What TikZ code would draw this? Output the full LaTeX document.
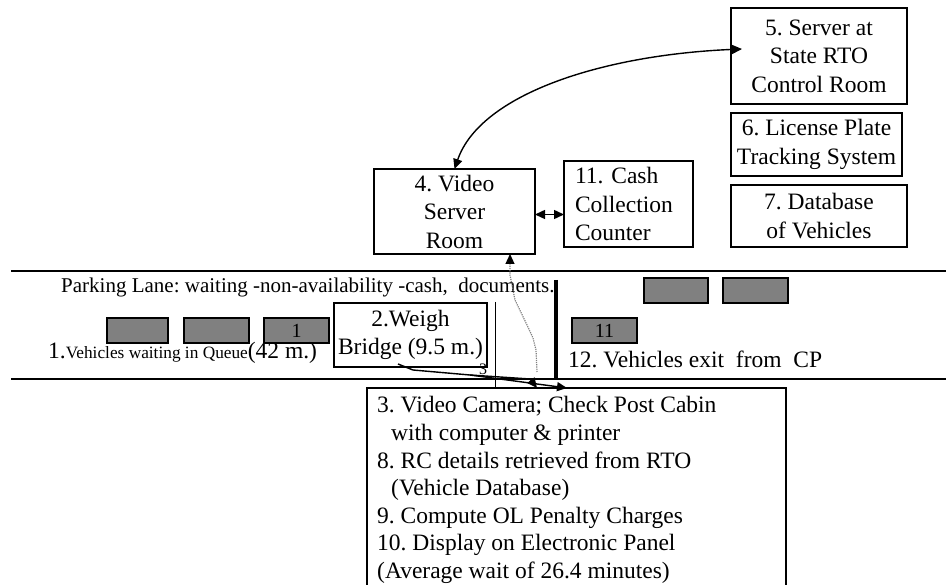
\documentclass[tikz,border=0pt]{standalone}
\usepackage{fontspec}
\setmainfont{Liberation Serif}
\usetikzlibrary{arrows.meta,calc}
\definecolor{cargray}{RGB}{128,128,128}
\newcommand\bigf{\fontsize{23.5}{28.5}\selectfont}
\newcommand\midf{\fontsize{17.3}{20}\selectfont}
\newcommand\parkf{\fontsize{21}{24}\selectfont}
\newcommand\smallf{\fontsize{20}{22}\selectfont}
\begin{document}
\frenchspacing
\begin{tikzpicture}[x=1pt,y=-1pt,
  box/.style={draw, line width=1.7pt, inner sep=0pt, outer sep=0pt, align=center, font=\bigf, anchor=north west},
  car/.style={draw, fill=cargray, line width=1.7pt, inner sep=0pt, outer sep=0pt, anchor=north west, minimum height=25pt, font=\smallf},
  road/.style={line width=2.4pt},
  tip/.style={-{Triangle[length=10pt,width=9pt]}},
  tips/.style={{Triangle[length=10pt,width=9pt]}-{Triangle[length=10pt,width=9pt]}},
  lbl/.style={anchor=base west, inner sep=0pt, font=\bigf},
  conn/.style={line width=1.4pt}
]
\clip (0,0) rectangle (946,585);
% boxes
\node[box, minimum width=176pt, minimum height=96pt] (b5) at (731,8) {5. Server at\\State RTO\\Control Room};
\node[box, minimum width=171pt, minimum height=63pt] (b6) at (731,113) {6. License Plate\\Tracking System};
\node[box, minimum width=176pt, minimum height=62pt] (b7) at (731,185) {7. Database\\of Vehicles};
\node[box, minimum width=129pt, minimum height=86pt, align=left, text width=107pt] (b11) at (564,161) {11. Cash\\Collection\\Counter};
\node[box, minimum width=161pt, minimum height=85pt] (b4) at (374,169) {4. Video\\Server\\Room};
\node[box, minimum width=153pt, minimum height=64pt] (b2) at (334,303) {2.Weigh\\Bridge (9.5 m.)};
\node[box, minimum width=419pt, minimum height=215pt] (b3) at (367,388) {};
% road
\coordinate (rtl) at (11,271); \coordinate (rtr) at (946,271);
\coordinate (rbl) at (11,379); \coordinate (rbr) at (946,379);
\draw[road] (rtl) -- (rtr);
\draw[road] (rbl) -- (rbr);
\node[lbl, font=\parkf] (park) at (61,293) {Parking Lane: waiting -non-availability -cash,\ \ documents.};
% cars
\node[car, minimum width=61pt] (c1) at (107,318) {};
\node[car, minimum width=65pt] (c2) at (184,318) {};
\node[car, minimum width=65pt] (c3) at (264,318) {1};
\node[car, minimum width=65pt] (c11) at (572,318) {11};
\node[car, minimum width=64pt] (c12) at (644,278) {};
\node[car, minimum width=65pt] (c13) at (723,278) {};
\node[lbl] (queue) at (48,359) {1.{\midf Vehicles waiting in Queue}(42 m.)};
\node[lbl] (exit) at (568,368) {12. Vehicles exit\ \ from\ \ CP};
\node[lbl, font=\fontsize{16}{18}\selectfont] (three) at (479,375) {3};
% vertical bars
\coordinate (tv1) at (495.5,302);
\draw[line width=1.4pt] (tv1) -- (tv1 |- b3.north);
\coordinate (kv1) at (556,280); \coordinate (kv2) at (556,380);
\draw[line width=3.5pt] (kv1) -- (kv2);
% box 3 text
\node[lbl] (l1) at (377,413) {3. Video Camera; Check Post Cabin};
\node[lbl] (l2) at (391,440.5) {with computer \& printer};
\node[lbl] (l3) at (377,468) {8. RC details retrieved from RTO};
\node[lbl] (l4) at (391,495.5) {(Vehicle Database)};
\node[lbl] (l5) at (377,523) {9. Compute OL Penalty Charges};
\node[lbl] (l6) at (377,550.5) {10. Display on Electronic Panel};
\node[lbl] (l7) at (377,578) {(Average wait of 26.4 minutes)};
% connectors
\draw[conn, tips] ($(b5.west)+(11,-7)$) .. controls (600,55) and (480,95) .. (b4.north);
\coordinate (a4) at ($(b4.east)+(0,3)$);
\draw[conn, tips] (a4) -- (a4 -| b11.west);
\coordinate (ws) at ($(b2.south west)+(64,-3)$);
\coordinate (wm) at (470,375);
\draw[conn, tip] (ws) -- (413,370) -- (wm) -- (530,379) -- ($(b3.north west)+(170,0)$);
\draw[conn, tip] (wm) -- ($(b3.north west)+(200,0)$);
\coordinate (ds) at (537,372);
\coordinate (dtop) at (510,0);
\draw[gray, line width=1.2pt, densely dotted, -{Triangle[length=10pt,width=9pt,color=black]}] (ds) -- (536,350) -- (533,338) -- (527,325) -- (515,300) -- (510,275) -- (b4.south -| dtop);
\end{tikzpicture}
\end{document}
